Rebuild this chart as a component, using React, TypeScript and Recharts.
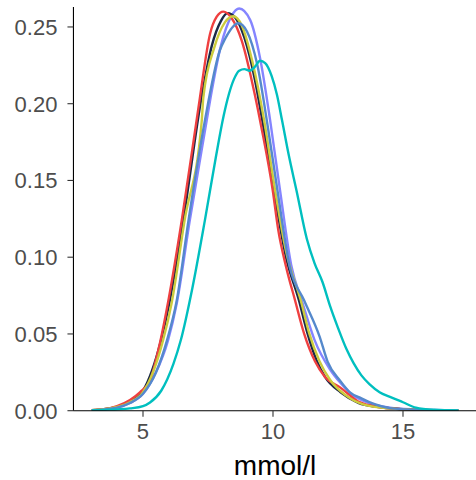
import React from 'react';
import { LineChart, Line, XAxis, YAxis } from 'recharts';

// density curves, [mmol/l, density]
const purple: [number, number][] = [
  [3.03, 0.0002], [3.5, 0.0008], [4.0, 0.002], [4.5, 0.005], [5.0, 0.011], [5.5, 0.025],
  [5.96, 0.0457], [6.3, 0.07], [6.8, 0.124], [7.45, 0.189], [7.6, 0.204], [8.0, 0.238],
  [8.4, 0.257], [8.7, 0.262], [9.12, 0.2546], [9.5, 0.23], [9.9, 0.188], [10.27, 0.1436],
  [10.7, 0.095], [11.14, 0.07], [11.6, 0.046], [12.19, 0.027], [12.6, 0.018], [13.0, 0.011],
  [13.7, 0.005], [14.5, 0.002], [15.5, 0.0008], [17.13, 0.0001],
];

const dark: [number, number][] = [
  [3.03, 0.0003], [3.5, 0.001], [4.0, 0.0025], [4.5, 0.006], [5.0, 0.013], [5.69, 0.0457],
  [6.0, 0.069], [6.55, 0.124], [7.25, 0.204], [7.65, 0.238], [8.0, 0.254], [8.25, 0.259],
  [8.55, 0.256], [8.9, 0.243], [9.3, 0.216], [9.6, 0.188], [10.03, 0.1436], [10.5, 0.1],
  [11.0, 0.0718], [11.3, 0.052], [11.68, 0.0326], [12.0, 0.022], [12.6, 0.012], [13.3, 0.005],
  [14.0, 0.0025], [15.0, 0.001], [16.0, 0.0004], [17.13, 0.0001],
];

const red: [number, number][] = [
  [3.03, 0.0003], [3.5, 0.001], [4.0, 0.003], [4.5, 0.007], [4.88, 0.012], [5.27, 0.0196],
  [5.65, 0.044], [6.0, 0.074], [6.49, 0.124], [7.06, 0.189], [7.19, 0.204], [7.58, 0.2456],
  [7.83, 0.2565], [8.09, 0.26], [8.4, 0.256], [8.8, 0.241], [9.3, 0.206], [9.55, 0.185],
  [9.99, 0.1436], [10.2, 0.118], [10.5, 0.094], [10.85, 0.0718], [11.2, 0.05], [11.62, 0.032],
  [12.0, 0.022], [12.58, 0.0152], [13.35, 0.0054], [14.0, 0.0025], [15.0, 0.001],
  [16.0, 0.0004], [17.13, 0.0001],
];

const yellow: [number, number][] = [
  [3.03, 0.0003], [3.5, 0.001], [4.0, 0.0025], [4.5, 0.0055], [5.0, 0.012], [5.77, 0.0457],
  [6.1, 0.07], [6.6, 0.124], [7.26, 0.189], [7.32, 0.204], [7.75, 0.237], [8.15, 0.253],
  [8.47, 0.257], [8.8, 0.251], [9.2, 0.228], [9.65, 0.19], [10.08, 0.1436], [10.5, 0.104],
  [11.07, 0.0718], [11.4, 0.05], [11.78, 0.0326], [12.2, 0.02], [12.8, 0.01], [13.5, 0.004],
  [14.5, 0.0015], [15.5, 0.0006], [17.13, 0.0001],
];

const blue: [number, number][] = [
  [3.03, 0.0002], [3.5, 0.0008], [4.0, 0.002], [4.5, 0.005], [5.0, 0.011], [5.5, 0.025],
  [5.92, 0.0457], [6.3, 0.072], [6.75, 0.124], [7.38, 0.189], [7.5, 0.2], [7.96, 0.235],
  [8.15, 0.242], [8.67, 0.2524], [9.0, 0.247], [9.4, 0.225], [9.8, 0.185], [10.17, 0.1436],
  [10.65, 0.0935], [11.2, 0.0718], [11.8, 0.048], [12.1, 0.032], [12.58, 0.0196],
  [12.96, 0.012], [13.4, 0.008], [13.73, 0.0054], [14.5, 0.0017], [15.5, 0.0006],
  [17.13, 0.0001],
];

const cyan: [number, number][] = [
  [3.03, 0.0001], [4.0, 0.0008], [4.5, 0.0015], [5.0, 0.003], [5.27, 0.0054], [5.7, 0.013],
  [6.17, 0.0305], [6.45, 0.0457], [6.9, 0.08], [7.38, 0.124], [7.8, 0.165], [8.1, 0.192],
  [8.3, 0.206], [8.5, 0.216], [8.7, 0.2215], [8.9, 0.2225], [9.1, 0.2215], [9.3, 0.224],
  [9.5, 0.228], [9.7, 0.2265], [9.95, 0.218], [10.15, 0.206], [10.35, 0.189], [10.6, 0.167],
  [10.91, 0.143], [11.3, 0.112], [11.6, 0.096], [11.9, 0.084], [12.2, 0.068], [12.5, 0.054],
  [12.83, 0.04], [13.1, 0.031], [13.4, 0.023], [13.73, 0.017], [14.1, 0.012], [14.5, 0.009],
  [15.0, 0.0055], [15.5, 0.002], [16.2, 0.0006], [17.13, 0.0001],
];

const xTicks = [5, 10, 15];
const yTicks = [0, 0.05, 0.1, 0.15, 0.2, 0.25];

const series = [
  { name: 'purple', points: purple, color: '#8585FF' },
  { name: 'dark', points: dark, color: '#1B2A48' },
  { name: 'red', points: red, color: '#EF4040' },
  { name: 'yellow', points: yellow, color: '#CCCC3D' },
  { name: 'blue', points: blue, color: '#5589CC' },
  { name: 'cyan', points: cyan, color: '#00BFBF' },
];

const FONT = '"Liberation Sans", Arial, sans-serif';

const App: React.FC = () => {
  return (
    <div style={{ position: 'absolute', left: 0, top: 0, width: 480, height: 480, overflow: 'hidden' }}>
      <LineChart width={480} height={480} margin={{ top: 7, right: 3.3, bottom: 0, left: 0 }}>
        <XAxis
          type="number"
          dataKey="x"
          domain={[2.325, 17.835]}
          allowDataOverflow
          ticks={xTicks}
          height={69.3}
          stroke="#000"
          strokeWidth={1.1}
          tickSize={6}
          tickMargin={7}
          tickLine={{ stroke: '#333' }}
          tick={{ fill: '#4D4D4D', fontSize: 22, fontFamily: FONT }}
          label={{ value: 'mmol/l', position: 'insideBottom', offset: 5, fill: '#000', fontSize: 28, fontFamily: FONT }}
        />
        <YAxis
          type="number"
          domain={[0, 0.263]}
          allowDataOverflow
          ticks={yTicks}
          width={73.45}
          stroke="#000"
          strokeWidth={1.1}
          tickSize={6}
          tickMargin={10}
          tickLine={{ stroke: '#333' }}
          tick={{ fill: '#4D4D4D', fontSize: 22, fontFamily: FONT }}
          tickFormatter={(v: number) => v.toFixed(2)}
        />
        {series.map((s) => (
          <Line
            key={s.name}
            data={s.points.map(([x, y]) => ({ x, y }))}
            dataKey="y"
            type="monotone"
            stroke={s.color}
            strokeWidth={2.4}
            dot={false}
            activeDot={false}
            isAnimationActive={false}
          />
        ))}
      </LineChart>
    </div>
  );
};

export default App;
